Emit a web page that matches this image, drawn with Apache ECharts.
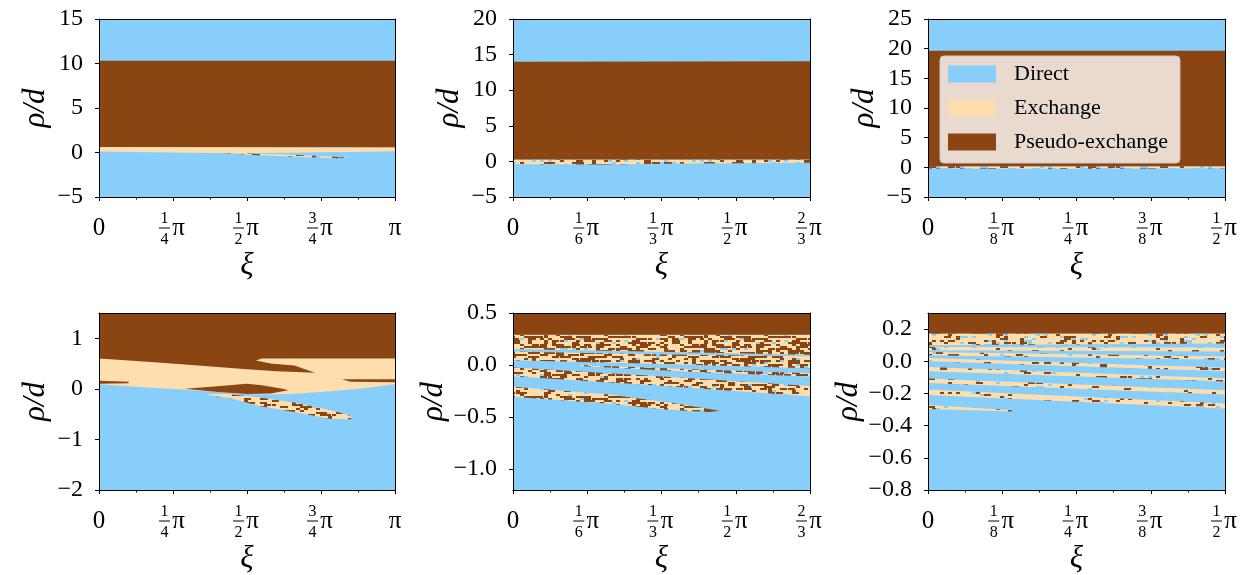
<!DOCTYPE html>
<html>
<head>
<meta charset="utf-8">
<script src="https://cdn.jsdelivr.net/npm/echarts@6/dist/echarts.min.js"></script>
<style>
  html, body { margin: 0; padding: 0; background: #fff; }
  #chart { width: 1251px; height: 575px; }
</style>
</head>
<body>
<div id="chart"></div>
<script>
const DIRECT = '#87cefa';
const EXCHANGE = '#ffdead';
const PSEUDO = '#8b4513';
const FONT = 'Liberation Serif';

// x tick labels, in units of pi
const xLabelsQuarter = ['0', '1/4', '1/2', '3/4', '1'];
const xLabelsSixth = ['0', '1/6', '1/3', '1/2', '2/3'];
const xLabelsEighth = ['0', '1/8', '1/4', '3/8', '1/2'];

// y ticks per panel
const yTicks1 = [-5, 0, 5, 10, 15];
const yTicks2 = [-5, 0, 5, 10, 15, 20];
const yTicks3 = [-5, 0, 5, 10, 15, 20, 25];
const yTicks4 = [-2, -1, 0, 1];
const yTicks5 = [-1.0, -0.5, 0.0, 0.5];
const yTicks6 = [-0.8, -0.6, -0.4, -0.2, 0.0, 0.2];

// axis ranges (x in units of pi)
const p1X = [0, 1], p1Y = [-5, 15];
const p2X = [0, 2 / 3], p2Y = [-5, 20];
const p3X = [0, 0.5], p3Y = [-5, 25];
const p4X = [0, 1], p4Y = [-2, 1.5];
const p5X = [0, 2 / 3], p5Y = [-1.2, 0.5];
const p6X = [0, 0.5], p6Y = [-0.8, 0.3];

// region outlines [xi/pi, rho/d]
// panel 1
const p1Pseudo = [[0, 10.3], [1, 10.3], [1, 0.6], [0, 0.62]];
const p1Exchange = [[0, 0.62], [1, 0.6], [1, 0.15], [0.9, 0.08], [0.7, 0.0], [0.5, -0.08], [0.3, -0.02], [0, 0.12]];
const p1Tongue = [[0.42, -0.05], [0.6, -0.2], [0.75, -0.4], [0.85, -0.6], [0.8, -0.64], [0.65, -0.45], [0.5, -0.24]];
// panel 2
const p2Pseudo = [[0, 14.0], [2 / 3, 14.05], [2 / 3, 0.25], [0, 0.25]];
const p2Mixed = [[0, 0.25], [2 / 3, 0.25], [2 / 3, -0.2], [0.4, -0.3], [0.2, -0.45], [0, -0.4]];
// panel 3
const p3Pseudo = [[0, 19.65], [0.5, 19.65], [0.5, 0.17], [0, 0.17]];
const p3Mixed = [[0, 0.17], [0.5, 0.17], [0.5, -0.15], [0.25, -0.25], [0, -0.2]];
// panel 4
const p4Exchange = [[0, 0.62], [1, 0.62], [1, 0.09], [0.88, 0.0], [0.75, -0.06], [0.65, -0.1], [0.55, -0.11],
  [0.45, -0.09], [0.3, -0.02], [0.15, 0.03], [0, 0.09]];
const p4PseudoTop = [[0, 1.5], [1, 1.5], [1, 0.6], [0.55, 0.6], [0.53, 0.56], [0.58, 0.5], [0.66, 0.46], [0.73, 0.32],
  [0.6, 0.35], [0.5, 0.39], [0.38, 0.44], [0.2, 0.52], [0, 0.6]];
const p4PseudoRight = [[0.82, 0.19], [1, 0.19], [1, 0.13], [0.85, 0.14]];
const p4PseudoLeft = [[0, 0.16], [0.1, 0.14], [0.1, 0.11], [0, 0.1]];
const p4Blob = [[0.29, 0.0], [0.4, 0.05], [0.5, 0.1], [0.55, 0.07], [0.62, 0.0], [0.64, -0.03], [0.58, -0.09],
  [0.5, -0.1], [0.4, -0.06]];
const p4Tongue = [[0.37, -0.1], [0.43, -0.1], [0.53, -0.16], [0.66, -0.27], [0.78, -0.42], [0.84, -0.51], [0.855, -0.57],
  [0.85, -0.6], [0.78, -0.59], [0.66, -0.46], [0.55, -0.35], [0.44, -0.18], [0.37, -0.12]];
// panel 5
const p5Pseudo = [[0, 0.5], [2 / 3, 0.5], [2 / 3, 0.29], [0, 0.29]];
const p5BandA = [[0, 0.29], [2 / 3, 0.29], [2 / 3, 0.10], [0.3, 0.13], [0, 0.155]];
const p5BandB = [[0, 0.13], [0.3, 0.105], [2 / 3, 0.085], [2 / 3, -0.03], [0.3, 0.015], [0, 0.045]];
const p5BandX = [[0.15, 0.0], [0.4, -0.04], [2 / 3, -0.078], [2 / 3, -0.11], [0.4, -0.065], [0.15, -0.01]];
const p5BandC = [[0, -0.024], [0.3, -0.1], [2 / 3, -0.2], [2 / 3, -0.3], [0.3, -0.19], [0, -0.107]];
const p5Tongue = [[0, -0.209], [0.21, -0.28], [0.35, -0.36], [0.464, -0.44], [0.44, -0.45], [0.35, -0.43],
  [0.21, -0.37], [0, -0.305]];
// panel 6
const p6Pseudo = [[0, 0.3], [0.5, 0.3], [0.5, 0.172], [0, 0.172]];
const p6Band1 = [[0, 0.172], [0.5, 0.172], [0.5, 0.11], [0, 0.10]];
const p6Band2 = [[0, 0.089], [0.5, 0.085], [0.5, 0.06], [0, 0.068]];
const p6Band3 = [[0, 0.058], [0.5, 0.03], [0.5, 0.01], [0, 0.037]];
const p6Band4 = [[0, 0.02], [0.5, -0.04], [0.5, -0.062], [0, 0.0]];
const p6Band5 = [[0, -0.035], [0.5, -0.105], [0.5, -0.125], [0, -0.062]];
const p6Band6 = [[0, -0.107], [0.5, -0.18], [0.5, -0.207], [0, -0.135]];
const p6Band7 = [[0, -0.175], [0.5, -0.262], [0.5, -0.293], [0, -0.21]];
const p6Tongue = [[0, -0.272], [0.143, -0.305], [0.14, -0.312], [0, -0.297]];

// speckle textures for mixed exchange regions
function texture(brown, blue, salt) {
  const cw = 4, ch = 2, cols = 40, rows = 30;
  const c = document.createElement('canvas');
  c.width = cw * cols;
  c.height = ch * rows;
  const g = c.getContext('2d');
  g.fillStyle = EXCHANGE;
  g.fillRect(0, 0, c.width, c.height);
  for (let j = 0; j < rows; j++) {
    for (let i = 0; i < cols; i++) {
      let h = Math.imul(i + salt * 977, 374761393) ^ Math.imul(j + 31, 668265263);
      h = Math.imul(h ^ (h >>> 13), 1274126177);
      h ^= h >>> 16;
      const u = (h >>> 0) / 4294967296;
      if (u < brown) {
        g.fillStyle = PSEUDO;
        g.fillRect(i * cw, j * ch, cw + (u < brown / 2 ? 3 : 0), ch);
      } else if (u > 1 - blue) {
        g.fillStyle = DIRECT;
        g.fillRect(i * cw, j * ch, cw, ch);
      }
    }
  }
  return { image: c, repeat: 'repeat' };
}
const dense = texture(0.38, 0.03, 1);
const mid = texture(0.26, 0.02, 2);
const thin = texture(0.22, 0.2, 3);
const sparse = texture(0.1, 0.03, 4);
const sparseTop = texture(0.18, 0.12, 5);

function rect(xr, yr) {
  return [[xr[0], yr[0]], [xr[1], yr[0]], [xr[1], yr[1]], [xr[0], yr[1]]];
}

const panels = [
  { xLabels: xLabelsQuarter, xr: p1X, yr: p1Y, yTicks: yTicks1, dec: 0,
    exchange: [[p1Exchange, EXCHANGE], [p1Tongue, mid]], pseudo: [p1Pseudo] },
  { xLabels: xLabelsSixth, xr: p2X, yr: p2Y, yTicks: yTicks2, dec: 0,
    exchange: [[p2Mixed, thin]], pseudo: [p2Pseudo] },
  { xLabels: xLabelsEighth, xr: p3X, yr: p3Y, yTicks: yTicks3, dec: 0,
    exchange: [[p3Mixed, thin]], pseudo: [p3Pseudo] },
  { xLabels: xLabelsQuarter, xr: p4X, yr: p4Y, yTicks: yTicks4, dec: 0,
    exchange: [[p4Exchange, EXCHANGE], [p4Tongue, mid]], pseudo: [p4PseudoTop, p4PseudoRight, p4PseudoLeft, p4Blob] },
  { xLabels: xLabelsSixth, xr: p5X, yr: p5Y, yTicks: yTicks5, dec: 1,
    exchange: [[p5BandA, dense], [p5BandB, dense], [p5BandX, dense], [p5BandC, dense], [p5Tongue, dense]],
    pseudo: [p5Pseudo] },
  { xLabels: xLabelsEighth, xr: p6X, yr: p6Y, yTicks: yTicks6, dec: 1,
    exchange: [[p6Band1, sparseTop], [p6Band2, sparse], [p6Band3, sparse], [p6Band4, sparse], [p6Band5, sparse],
      [p6Band6, sparse], [p6Band7, sparse], [p6Tongue, sparse]],
    pseudo: [p6Pseudo] }
];

const gridBoxes = [
  { left: 99, top: 19, width: 296, height: 178 },
  { left: 513, top: 19, width: 297, height: 178 },
  { left: 928, top: 19, width: 297, height: 178 },
  { left: 99, top: 313, width: 296, height: 177 },
  { left: 513, top: 313, width: 297, height: 177 },
  { left: 928, top: 313, width: 297, height: 177 }
];

function fracValue(s) {
  const parts = s.split('/');
  return parts.length === 2 ? +parts[0] / +parts[1] : +s;
}

function piLabel(s) {
  if (s === '0') return '{s| }\n{z|0}\n{s| }';
  if (s === '1') return '{s| }\n{z|π}\n{s| }';
  const [a, b] = s.split('/');
  return '{n|' + a + '}{s| }\n{b| }{p|π}\n{d|' + b + '}{s| }';
}

const rich = {
  n: { fontFamily: FONT, fontSize: 16, lineHeight: 12, width: 11, align: 'center', color: '#000' },
  s: { fontFamily: FONT, fontSize: 16, lineHeight: 12, width: 17 },
  b: { fontSize: 1, width: 11, height: 1, lineHeight: 6, backgroundColor: '#000' },
  p: { fontFamily: FONT, fontSize: 25, lineHeight: 6, width: 17, align: 'center', color: '#000' },
  z: { fontFamily: FONT, fontSize: 25, lineHeight: 6, color: '#000' },
  d: { fontFamily: FONT, fontSize: 16, lineHeight: 18, width: 11, align: 'center', color: '#000' }
};

const grid = [], xAxis = [], yAxis = [], series = [];
const spine = { show: true, onZero: false, lineStyle: { color: '#000', width: 1 } };

panels.forEach((pn, k) => {
  grid.push(gridBoxes[k]);
  const xTicks = pn.xLabels.map(fracValue);
  const xMinor = xTicks.slice(1).map((v, i) => (v + xTicks[i]) / 2);
  xAxis.push({
    gridIndex: k, type: 'value', position: 'bottom', min: pn.xr[0], max: pn.xr[1], z: 5,
    axisLine: spine,
    axisTick: { show: true, length: 4, customValues: xTicks, lineStyle: { color: '#000' } },
    axisLabel: {
      customValues: xTicks, margin: 16, color: '#000', fontFamily: FONT, rich,
      formatter: v => {
        const i = xTicks.findIndex(t => Math.abs(t - v) < 1e-9);
        return i < 0 ? '' : piLabel(pn.xLabels[i]);
      }
    },
    splitLine: { show: false },
    name: 'ξ', nameLocation: 'middle', nameGap: 53,
    nameTextStyle: { fontFamily: FONT, fontStyle: 'italic', fontSize: 31, color: '#000' }
  });
  xAxis.push({
    gridIndex: k, type: 'value', position: 'bottom', min: pn.xr[0], max: pn.xr[1], z: 5,
    axisLine: { show: false, onZero: false },
    axisTick: { show: true, length: 2.5, customValues: xMinor, lineStyle: { color: '#000' } },
    axisLabel: { show: false }, splitLine: { show: false }
  });
  xAxis.push({
    gridIndex: k, type: 'value', position: 'top', min: pn.xr[0], max: pn.xr[1], z: 5,
    axisLine: spine, axisTick: { show: false }, axisLabel: { show: false }, splitLine: { show: false }
  });
  yAxis.push({
    gridIndex: k, type: 'value', position: 'left', min: pn.yr[0], max: pn.yr[1], z: 5,
    axisLine: spine,
    axisTick: { show: true, length: 4, customValues: pn.yTicks, lineStyle: { color: '#000' } },
    axisLabel: {
      customValues: pn.yTicks, margin: 16, color: '#000', fontFamily: FONT, fontSize: 24,
      formatter: v => (v < -1e-9 ? '\u2212' : '') + Math.abs(v).toFixed(pn.dec)
    },
    splitLine: { show: false },
    name: 'ρ/d', nameLocation: 'middle', nameGap: 48,
    nameTextStyle: { fontFamily: FONT, fontStyle: 'italic', fontSize: 31, color: '#000' }
  });
  yAxis.push({
    gridIndex: k, type: 'value', position: 'right', min: pn.yr[0], max: pn.yr[1], z: 5,
    axisLine: spine, axisTick: { show: false }, axisLabel: { show: false }, splitLine: { show: false }
  });

  const layers = {
    'Direct': [[rect(pn.xr, pn.yr), DIRECT]],
    'Exchange': pn.exchange,
    'Pseudo-exchange': pn.pseudo.map(p => [p, PSEUDO])
  };
  const colors = { 'Direct': DIRECT, 'Exchange': EXCHANGE, 'Pseudo-exchange': PSEUDO };
  Object.keys(layers).forEach(name => {
    const list = layers[name];
    series.push({
      type: 'custom', name, coordinateSystem: 'cartesian2d',
      xAxisIndex: 3 * k, yAxisIndex: 2 * k,
      itemStyle: { color: colors[name] },
      silent: true, animation: false,
      data: list.map((_, i) => [i]),
      renderItem: (params, api) => {
        const [pts, fill] = list[params.dataIndex];
        return {
          type: 'polygon',
          shape: { points: pts.map(p => api.coord(p)) },
          style: { fill: fill, stroke: null }
        };
      }
    });
  });
});

const chart = echarts.init(document.getElementById('chart'), null, { renderer: 'canvas' });
chart.setOption({
  backgroundColor: '#fff',
  animation: false,
  grid, xAxis, yAxis, series,
  legend: {
    data: ['Direct', 'Exchange', 'Pseudo-exchange'],
    orient: 'vertical', left: 940, top: 56,
    icon: 'rect', itemWidth: 48, itemHeight: 17, itemGap: 12,
    padding: [7, 12, 10, 8],
    backgroundColor: 'rgba(255,255,255,0.8)',
    borderColor: '#cccccc', borderWidth: 1, borderRadius: 4,
    textStyle: { fontFamily: FONT, fontSize: 22, lineHeight: 20, color: '#000', padding: [0, 0, 0, 13] },
    selectedMode: false
  }
});
</script>
</body>
</html>
